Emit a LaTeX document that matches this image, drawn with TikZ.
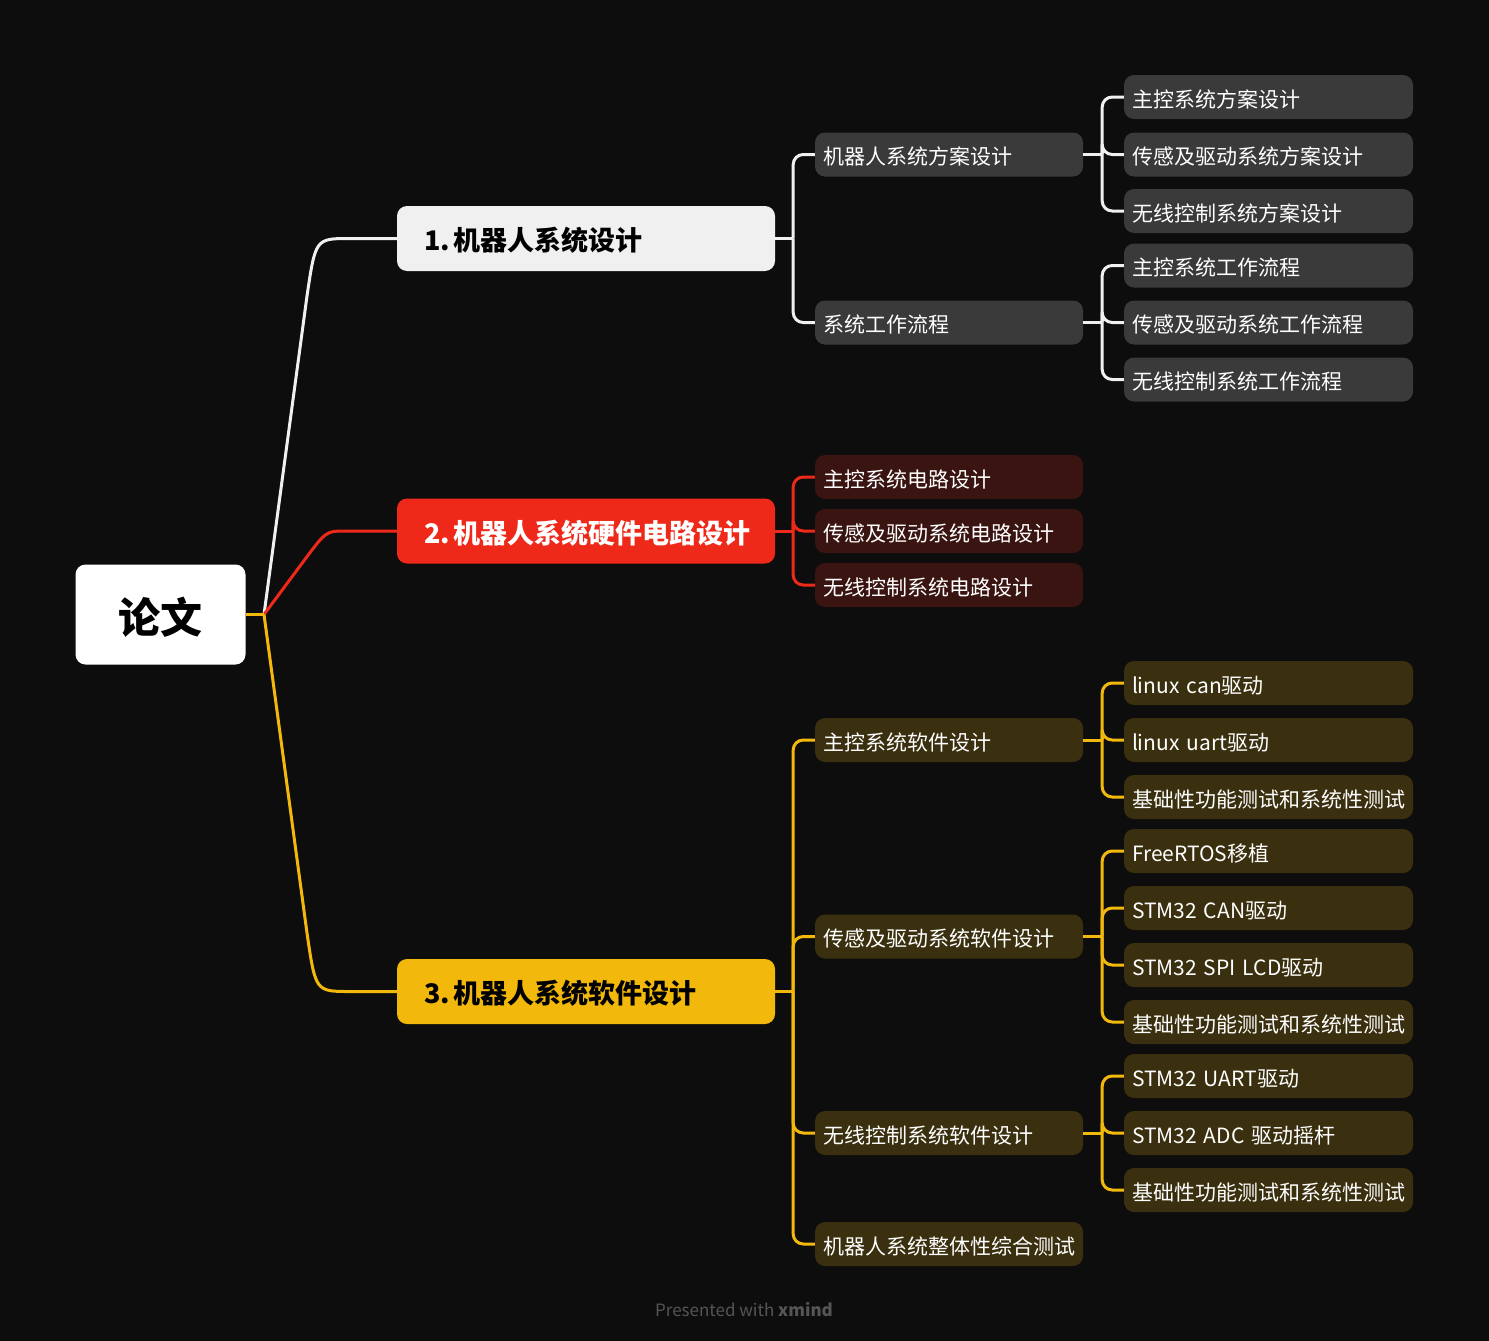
\documentclass[tikz,border=0pt]{standalone}
\usepackage{fontspec}
\setmainfont{Noto Sans CJK SC}
\usetikzlibrary{calc}
\definecolor{bgc}{HTML}{0D0D0D}
\definecolor{greyc}{HTML}{3A3A3A}
\definecolor{redc}{HTML}{EE2919}
\definecolor{redbox}{HTML}{3A1411}
\definecolor{yelc}{HTML}{F2B80C}
\definecolor{yelbox}{HTML}{3A2F0E}
\definecolor{whitec}{HTML}{F0F0F0}
\definecolor{footc}{HTML}{555555}
\tikzset{
  box/.style={rounded corners=10pt, inner ysep=0pt, anchor=center, align=left},
  ltwo/.style={box, minimum height=44pt, text width=252pt, inner xsep=8pt,
    font=\fontsize{21}{25}\selectfont, text=white, text height=20pt, text depth=0pt},
  lthree/.style={ltwo, text width=273pt},
  lone/.style={box, minimum height=65pt, text width=324pt, inner xsep=27pt,
    font=\bfseries\fontsize{27}{32}\selectfont, text height=25pt, text depth=1pt},
  rootbox/.style={rounded corners=10pt, fill=white, minimum width=170pt, minimum height=100pt,
    font=\bfseries\fontsize{42}{48}\selectfont, text=black, inner sep=0pt,
    text height=38pt, text depth=0pt},
  wline/.style={draw=whitec, line width=3pt},
  rline/.style={draw=redc, line width=3pt},
  yline/.style={draw=yelc, line width=3pt},
  sub/.style={rounded corners=10pt}
}
\begin{document}
\begin{tikzpicture}[x=1pt,y=-1pt]
\useasboundingbox (0,0) rectangle (1489,1341);
\fill[bgc] (0,0) rectangle (1489,1341);

% root
\node[rootbox] (root) at (160.5,614.5) {论文};
\coordinate (rj) at (264,614.5);

% level 1
\node[lone, fill=whitec, text=black] (la) at (586,238.5) {\mbox{1.\hspace{4pt}机器人系统设计}};
\node[lone, fill=redc, text=white] (lb) at (586,531) {\mbox{2.\hspace{4pt}机器人系统硬件电路设计}};
\node[lone, fill=yelc, text=black] (lc) at (586,991.5) {\mbox{3.\hspace{4pt}机器人系统软件设计}};

% level 2 / 3 : white branch
\node[ltwo, fill=greyc] (a1) at (949,154.5) {机器人系统方案设计};
\node[ltwo, fill=greyc] (a2) at (949,322.5) {系统工作流程};
\node[lthree, fill=greyc] (a11) at (1268.5,97) {主控系统方案设计};
\node[lthree, fill=greyc] (a12) at (1268.5,154.5) {传感及驱动系统方案设计};
\node[lthree, fill=greyc] (a13) at (1268.5,211) {无线控制系统方案设计};
\node[lthree, fill=greyc] (a21) at (1268.5,265.5) {主控系统工作流程};
\node[lthree, fill=greyc] (a22) at (1268.5,322.5) {传感及驱动系统工作流程};
\node[lthree, fill=greyc] (a23) at (1268.5,379.5) {无线控制系统工作流程};

% red branch
\node[ltwo, fill=redbox] (b1) at (949,477) {主控系统电路设计};
\node[ltwo, fill=redbox] (b2) at (949,531) {传感及驱动系统电路设计};
\node[ltwo, fill=redbox] (b3) at (949,585) {无线控制系统电路设计};

% yellow branch
\node[ltwo, fill=yelbox] (c1) at (949,740) {主控系统软件设计};
\node[ltwo, fill=yelbox] (c2) at (949,936.5) {传感及驱动系统软件设计};
\node[ltwo, fill=yelbox] (c3) at (949,1133) {无线控制系统软件设计};
\node[ltwo, fill=yelbox] (c4) at (949,1244) {机器人系统整体性综合测试};
\node[lthree, fill=yelbox] (c11) at (1268.5,683) {linux can驱动};
\node[lthree, fill=yelbox] (c12) at (1268.5,740) {linux uart驱动};
\node[lthree, fill=yelbox] (c13) at (1268.5,797) {基础性功能测试和系统性测试};
\node[lthree, fill=yelbox] (c21) at (1268.5,851) {FreeRTOS移植};
\node[lthree, fill=yelbox] (c22) at (1268.5,908) {STM32 CAN驱动};
\node[lthree, fill=yelbox] (c23) at (1268.5,965) {STM32 SPI LCD驱动};
\node[lthree, fill=yelbox] (c24) at (1268.5,1022) {基础性功能测试和系统性测试};
\node[lthree, fill=yelbox] (c31) at (1268.5,1076) {STM32 UART驱动};
\node[lthree, fill=yelbox] (c32) at (1268.5,1133) {STM32 ADC 驱动摇杆};
\node[lthree, fill=yelbox] (c33) at (1268.5,1190) {基础性功能测试和系统性测试};

% main curves
\draw[wline] (rj) -- (307,296) .. controls (315.5,238.5) .. (350,238.5) -- (la.west);
\draw[rline] (rj) -- (303,562) .. controls (326,531) .. (345,531) -- (lb.west);
\draw[yline] (rj) -- (307,933) .. controls (315.5,991.5) .. (350,991.5) -- (lc.west);
\draw[yline] (root.east) -- (rj);

% junctions
\coordinate (ja) at ($(la.east)+(18,0)$);
\coordinate (jb) at ($(lb.east)+(18,0)$);
\coordinate (jc) at ($(lc.east)+(18,0)$);
\coordinate (ja1) at ($(a1.east)+(19,0)$);
\coordinate (ja2) at ($(a2.east)+(19,0)$);
\coordinate (jc1) at ($(c1.east)+(19,0)$);
\coordinate (jc2) at ($(c2.east)+(19,0)$);
\coordinate (jc3) at ($(c3.east)+(19,0)$);

% white connectors
\draw[wline] (la.east) -- (ja);
\draw[wline, sub] (ja) |- (a1.west);
\draw[wline, sub] (ja) |- (a2.west);
\draw[wline] (a1.east) -- (ja1);
\draw[wline, sub] (ja1) |- (a11.west);
\draw[wline, sub] (ja1) |- (a12.west);
\draw[wline, sub] (ja1) |- (a13.west);
\draw[wline] (a2.east) -- (ja2);
\draw[wline, sub] (ja2) |- (a21.west);
\draw[wline, sub] (ja2) |- (a22.west);
\draw[wline, sub] (ja2) |- (a23.west);

% red connectors
\draw[rline] (lb.east) -- (jb);
\draw[rline, sub] (jb) |- (b1.west);
\draw[rline, sub] (jb) |- (b2.west);
\draw[rline, sub] (jb) |- (b3.west);

% yellow connectors
\draw[yline] (lc.east) -- (jc);
\draw[yline, sub] (jc) |- (c1.west);
\draw[yline, sub] (jc) |- (c2.west);
\draw[yline, sub] (jc) |- (c3.west);
\draw[yline, sub] (jc) |- (c4.west);
\draw[yline] (c1.east) -- (jc1);
\draw[yline, sub] (jc1) |- (c11.west);
\draw[yline, sub] (jc1) |- (c12.west);
\draw[yline, sub] (jc1) |- (c13.west);
\draw[yline] (c2.east) -- (jc2);
\draw[yline, sub] (jc2) |- (c21.west);
\draw[yline, sub] (jc2) |- (c22.west);
\draw[yline, sub] (jc2) |- (c23.west);
\draw[yline, sub] (jc2) |- (c24.west);
\draw[yline] (c3.east) -- (jc3);
\draw[yline, sub] (jc3) |- (c31.west);
\draw[yline, sub] (jc3) |- (c32.west);
\draw[yline, sub] (jc3) |- (c33.west);

% footer
\node[text=footc, font=\fontsize{17}{20}\selectfont] (foot) at (744,1310) {Presented with \textbf{xmind}};
\end{tikzpicture}
\end{document}
